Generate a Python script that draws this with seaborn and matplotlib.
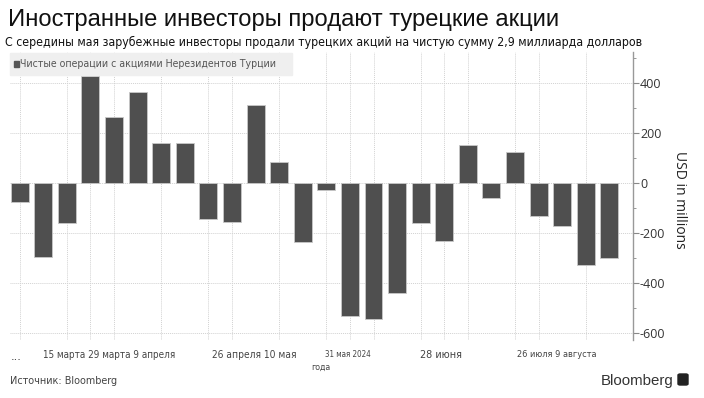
import numpy as np
import pandas as pd
import seaborn as sns
import matplotlib.pyplot as plt
from matplotlib.patches import Rectangle, FancyBboxPatch
from matplotlib.ticker import MultipleLocator

# weekly net flows (Fridays, 2024), USD millions
weeks = ["2024-02-23", "2024-03-01", "2024-03-08", "2024-03-15", "2024-03-22",
         "2024-03-29", "2024-04-05", "2024-04-12", "2024-04-19", "2024-04-26",
         "2024-05-03", "2024-05-10", "2024-05-17", "2024-05-24", "2024-05-31",
         "2024-06-07", "2024-06-14", "2024-06-21", "2024-06-28", "2024-07-05",
         "2024-07-12", "2024-07-19", "2024-07-26", "2024-08-02", "2024-08-09",
         "2024-08-16"]
net_flows = [-76, -293, -157, 429, 267, 365, 161, 161, -143, -153, 313, 85, -233,
             -27, -531, -544, -440, -159, -229, 155, -57, 124, -129, -169, -325, -300]

y_ticks = [-600, -400, -200, 0, 200, 400]
grid_weeks = [0, 2, 3, 4, 6, 8, 9, 11, 13, 14, 15, 17, 18, 19, 21, 22, 24]

# x labels as they sit under the axis: (text, position in bars, align, row, width px)
x_labels = [
    ("...", -0.16, "center", 0, 11),
    ("15 марта 29 марта 9 апреля", 0.99, "left", 0, 132),
    ("26 апреля 10 мая", 8.15, "left", 0, 84),
    ("31 мая 2024", 13.9, "center", 0, 46),
    ("года", 12.75, "center", 1, 19),
    ("28 июня", 17.85, "center", 0, 42),
    ("26 июля 9 августа", 21.1, "left", 0, 80),
]

title = "Иностранные инвесторы продают турецкие акции"
subtitle = ("С середины мая зарубежные инвесторы продали турецких акций "
            "на чистую сумму 2,9 миллиарда долларов")
series_name = "Чистые операции с акциями Нерезидентов Турции"

W, H = 704, 398
sns.set_theme(style="white")
plt.rcParams["axes.unicode_minus"] = False
plt.rcParams["font.family"] = ["Liberation Sans", "DejaVu Sans"]
narrow = dict(family=["DejaVu Sans"], stretch="condensed")

df = pd.DataFrame({"week": weeks, "flow": net_flows})

fig = plt.figure(figsize=(W / 100, H / 100), dpi=100)
ax = fig.add_axes([10 / W, 1 - 340 / H, 623 / W, 288 / H])
renderer = fig.canvas.get_renderer()


def fit_width(t, target):
    # scale a text so that it spans target pixels, like the reference
    w = t.get_window_extent(renderer).width
    if w > 0:
        t.set_fontsize(t.get_fontsize() * target / w)


sns.barplot(data=df, x="week", y="flow", color="#4f4f4f", saturation=1,
            width=0.76, edgecolor="#c8c8c8", linewidth=0.6, ax=ax, zorder=3)
if ax.get_legend() is not None:
    ax.get_legend().remove()

ax.set_xlim(-0.41, 26.0)
ax.set_ylim(-627, 525)
ax.set_xlabel("")
ax.set_ylabel("")

ax.set_xticks(grid_weeks)
ax.set_xticklabels([""] * len(grid_weeks))
ax.tick_params(axis="x", length=0)

ax.yaxis.tick_right()
ax.set_yticks(y_ticks)
ax.yaxis.set_minor_locator(MultipleLocator(100))
ax.tick_params(axis="y", which="major", length=4, width=0.8, color="#888888",
               labelsize=9, labelcolor="#333333", pad=1)
ax.tick_params(axis="y", which="minor", length=2.5, width=0.6, color="#888888")
for lab in ax.get_yticklabels():
    lab.set_family(["Open Sans", "DejaVu Sans"])

ax.grid(True, which="major", color="#d2d2d2", linestyle=(0, (1, 1)), linewidth=0.7)
for side in ["top", "left", "bottom"]:
    ax.spines[side].set_visible(False)
ax.spines["right"].set_color("#999999")
ax.spines["right"].set_linewidth(1.0)

# x labels
for text, pos, ha, row, width in x_labels:
    t = ax.text(pos, -0.035 - row * 0.045, text, transform=ax.get_xaxis_transform(),
                ha=ha, va="top", fontsize=8, color="#444444", **narrow)
    fit_width(t, width)

# legend box (drawn by hand so the text can be narrow)
fig.add_artist(Rectangle((10 / W, 1 - 75 / H), 282 / W, 22 / H,
                         transform=fig.transFigure, color="#efefef", zorder=4))
fig.add_artist(Rectangle((14 / W, 1 - 67 / H), 5 / W, 6 / H,
                         transform=fig.transFigure, color="#555555", zorder=5))
lt = fig.text(20 / W, 1 - 64 / H, series_name, ha="left", va="center", fontsize=8.5,
              color="#555555", zorder=5, **narrow)
fit_width(lt, 257)

fig.text(680 / W, 1 - 200 / H, "USD in millions", rotation=270, ha="center",
         va="center", fontsize=10, color="#222222", family=["Open Sans", "DejaVu Sans"])

tt = fig.text(8 / W, 1 - 20 / H, title, ha="left", va="center", fontsize=16,
              color="#111111")
fit_width(tt, 552)
st = fig.text(5 / W, 1 - 42 / H, subtitle, ha="left", va="center", fontsize=10.5,
              color="#111111", **narrow)
fit_width(st, 643)

ft = fig.text(10 / W, 1 - 381 / H, "Источник: Bloomberg", ha="left", va="center",
              fontsize=9, color="#444444", **narrow)
fit_width(ft, 107)
bt = fig.text(673 / W, 1 - 381 / H, "Bloomberg", ha="right", va="center",
              fontsize=10, color="#333333")
fit_width(bt, 73)
fig.add_artist(FancyBboxPatch((678 / W, 1 - 385 / H), 10 / W, 11 / H,
                              boxstyle="round,pad=0,rounding_size=0.003",
                              transform=fig.transFigure, color="#222222"))

fig.savefig("out.png", dpi=100)
